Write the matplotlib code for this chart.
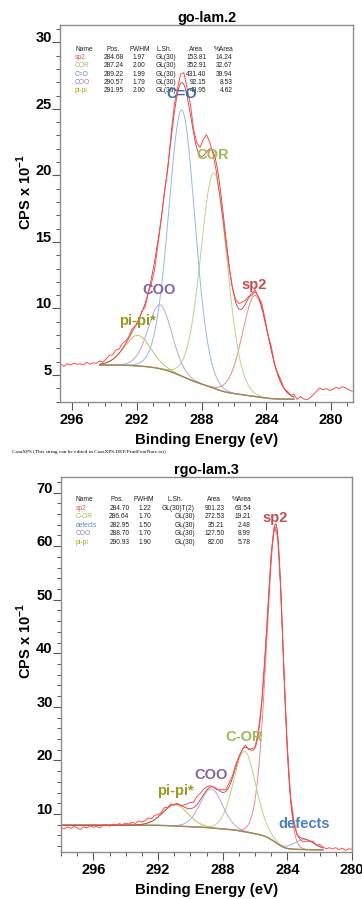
import numpy as np
import matplotlib
matplotlib.use('Agg')
import matplotlib.pyplot as plt
from matplotlib.ticker import MultipleLocator

plt.rcParams['font.family'] = ['Liberation Sans', 'DejaVu Sans']
plt.rcParams['mathtext.fontset'] = 'custom'
plt.rcParams['mathtext.rm'] = 'Liberation Sans'
plt.rcParams['mathtext.bf'] = 'Liberation Sans:bold'

W, H = 362, 899

# ---------------- go-lam.2 ----------------
go_names = ['sp2', 'COR', 'C=O', 'COO', 'pi-pi']
go_pos = [284.68, 287.24, 289.22, 290.57, 291.95]
go_fwhm = [1.97, 2.00, 1.99, 1.79, 2.00]
go_lsh = ['GL(30)', 'GL(30)', 'GL(30)', 'GL(30)', 'GL(30)']
go_area = [153.81, 352.91, 431.40, 92.15, 49.95]
go_pct = [14.24, 32.67, 39.94, 8.53, 4.62]
go_height = [7.6, 16.2, 20.0, 4.8, 2.3]          # above background
go_bg_hi, go_bg_lo = 5.75, 3.18                  # Shirley end points
go_region = (294.3, 282.3)
go_start, go_end = 296.7, 278.7
# raw counts minus fit envelope, every 0.2 eV from 296.7 down to 278.7
go_resid = [0.05, -0.1, 0.1, 0.0, 0.15, 0.05, 0.1, 0.0, 0.2, 0.05, 0.15, 0.1, 0.25, 0.1,
            0.3, 0.45, 0.35, 0.5, 0.3, 0.4, 0.2,
            0.1, 0.25, 0.0, -0.2, 0.1, -0.3, -0.1,
            -0.4, -0.6, -0.3, -0.1, 0.2, -0.2, 0.3,
            0.6, 0.4, 0.7, 0.9, 0.6, 0.8, 0.3,
            0.4, 0.6, 1.2, 1.3, 0.5, -0.2, -0.6,
            -0.8, -0.6, -0.4, -0.2, 0.0, 0.2, 0.4,
            0.5, 0.3, 0.1, -0.2, 0.2, 0.0, 0.3,
            0.2, 0.0, 0.3, -0.1, 0.1, 0.2, 0.0,
            0.1, 0.0, 0.2, -0.1, 0.15, 0.0, -0.05,
            0.1, 0.35, 0.6, 0.85, 0.7, 0.8, 0.65,
            0.75, 0.9, 0.8, 0.95, 0.85, 0.7, 0.6]

# ---------------- rgo-lam.3 ----------------
rgo_names = ['sp2', 'C-OR', 'defects', 'COO', 'pi-pi']
rgo_pos = [284.70, 286.64, 282.95, 288.70, 290.93]
rgo_fwhm = [1.22, 1.70, 1.50, 1.70, 1.90]
rgo_lsh = ['GL(30)T(2)', 'GL(30)', 'GL(30)', 'GL(30)', 'GL(30)']
rgo_area = [901.23, 272.53, 35.21, 127.50, 82.00]
rgo_pct = [63.54, 19.21, 2.48, 8.99, 5.78]
rgo_height = [59.0, 15.0, 1.9, 7.3, 4.0]
rgo_fwhm_hi = [1.45, 1.70, 1.50, 1.70, 1.90]     # high-BE side width (tail on sp2)
rgo_fwhm_lo = [1.10, 1.70, 1.50, 1.70, 1.90]
rgo_bg_hi, rgo_bg_lo = 7.9, 3.3
rgo_region = (298.0, 281.8)
rgo_start, rgo_end = 298.0, 280.0
rgo_resid = [-0.4, -0.7, -0.3, -0.6, -0.2, -0.5, -0.8, -0.3, -0.5, -0.1, -0.4, -0.2, -0.5, 0.0,
             0.1, -0.2, 0.2, 0.0, 0.3, 0.1, 0.4,
             0.2, 0.5, 0.3, 0.7, 0.4, 0.6, 0.9,
             0.5, 0.8, 0.4, 0.3, 0.6, 0.1, 0.3,
             -0.2, 0.2, -0.1, 0.4, 0.8, 1.2, 1.0,
             1.5, 1.2, 1.0, 0.6, 0.3, 0.0, -0.2,
             0.2, 0.5, 0.3, 0.7, 0.4, 0.6, 0.2,
             0.0, 0.4, -0.2, 0.3, 0.0, 0.5, 0.2,
             0.3, -0.3, 0.4, 0.0, -0.5, 0.6, 0.2,
             0.4, 0.0, 0.5, -0.2, -0.4, -0.6, -0.3,
             0.0, 0.3, -0.1, 0.4, 0.2, 0.0, 0.3,
             0.1, 0.4, 0.0, 0.3, -0.1, 0.2, 0.1]

comp_col = {'sp2': '#e88a8a', 'COR': '#b5d58a', 'C-OR': '#b5d58a', 'C=O': '#95b7e6',
            'defects': '#95b7e6', 'COO': '#b7a6dc', 'pi-pi': '#c2c25a'}
name_col = {'sp2': '#e05555', 'COR': '#9bc35a', 'C-OR': '#9bc35a', 'C=O': '#5b88cc',
            'defects': '#5b88cc', 'COO': '#9478c0', 'pi-pi': '#a8a820'}
lab_col = {'sp2': '#c0504d', 'COR': '#9bbb59', 'C-OR': '#9bbb59', 'C=O': '#3b6db3',
           'defects': '#4f81bd', 'COO': '#8064a2', 'pi-pi*': '#9a9a1c'}


def gl(x, pos, f_lo, f_hi, h, m=0.3):
    f = np.where(x > pos, f_hi, f_lo)
    u = (x - pos) ** 2 / f ** 2
    return h * np.exp(-4 * np.log(2) * (1 - m) * u) / (1 + 4 * m * u)


def px(x, y):
    return x / W, 1 - y / H


fig = plt.figure(figsize=(W / 100, H / 100), dpi=100)


def panel(rect, title, start, end, pos, f_lo, f_hi, heights, names, bg_hi, bg_lo,
          region, resid, xlim, ylim, ymaj, ymin):
    ax = fig.add_axes(rect)
    n = int(round((start - end) / 0.02)) + 1
    x = start - 0.02 * np.arange(n)
    comps = [gl(x, p, a, b, h) for p, a, b, h in zip(pos, f_lo, f_hi, heights)]
    total = np.sum(comps, axis=0)
    # Shirley background
    s = total[::-1]
    cum = np.concatenate([[0], np.cumsum((s[1:] + s[:-1]) / 2)])
    bg = (bg_lo + (bg_hi - bg_lo) * cum / cum[-1])[::-1]
    env = total + bg
    m = (x <= region[0]) & (x >= region[1])
    for c, nm in zip(comps, names):
        ax.plot(x[m], (c + bg)[m], color=comp_col[nm], lw=0.7)
    ax.plot(x[m], bg[m], color='#a08658', lw=1.0)
    ax.plot(x[m], env[m], color='#cc3a3a', lw=0.6)
    ax.plot(x[::10], env[::10] + np.array(resid), color='#ff4d4d', lw=0.7)

    ax.set_xlim(*xlim)
    ax.set_ylim(*ylim)
    ax.xaxis.set_major_locator(MultipleLocator(4))
    ax.xaxis.set_minor_locator(MultipleLocator(1))
    ax.yaxis.set_major_locator(MultipleLocator(ymaj))
    ax.yaxis.set_minor_locator(MultipleLocator(ymin))
    ax.tick_params(which='major', direction='out', length=5.5, width=0.8, color='#555555',
                   labelsize=10.5, pad=2.5)
    ax.tick_params(which='minor', direction='out', length=2.8, width=0.7, color='#555555')
    ax.tick_params(axis='y', pad=0.5)
    for lb in ax.get_xticklabels() + ax.get_yticklabels():
        lb.set_fontweight('bold')
    for lb in ax.get_yticklabels():
        lb.set_va('baseline')
    for sp in ax.spines.values():
        sp.set_color('#8c8c8c')
        sp.set_linewidth(1.0)
    ax.set_title(title, fontsize=10.4, fontweight='bold', pad=2)
    return ax


ax1 = panel([60 / W, 1 - 402 / H, 293 / W, 377 / H], 'go-lam.2', go_start, go_end,
            go_pos, go_fwhm, go_fwhm, go_height, go_names, go_bg_hi, go_bg_lo,
            go_region, go_resid, (296.75, 278.65), (2.97, 31.3), 5, 1)
ax2 = panel([61 / W, 1 - 852 / H, 291 / W, 375 / H], 'rgo-lam.3', rgo_start, rgo_end,
            rgo_pos, rgo_fwhm_lo, rgo_fwhm_hi, rgo_height, rgo_names, rgo_bg_hi, rgo_bg_lo,
            rgo_region, rgo_resid, (298.0, 280.0), (2.9, 72.9), 10, 2)

# axis labels
for yc, xc in [(192, 24), (641, 24)]:
    fig.text(*px(xc, yc), r'CPS x 10$^{\mathbf{-1}}$', rotation=90, ha='center', va='center',
             fontsize=10.5, fontweight='bold')
for yc in [440, 890]:
    fig.text(*px(207, yc), 'Binding Energy (eV)', ha='center', va='center',
             fontsize=10.8, fontweight='bold')

fig.text(*px(12, 452), 'CasaXPS (This string can be edited in CasaXPS.DEF/PrintFootNote.txt)',
         family='Liberation Serif', fontsize=3.8, va='center')

# fit tables
tfs = 4.8
go_cols = [('Name', 75, 'left'), ('Pos.', 124, 'right'), ('FWHM', 145.5, 'right'),
           ('L.Sh.', 155.5, 'left'), ('Area', 206.5, 'right'), ('%Area', 232.5, 'right')]
go_head_x = [(75, 'left'), (113, 'center'), (139.5, 'center'), (156.5, 'left'),
             (196, 'center'), (233, 'right')]
rgo_cols = [('Name', 76, 'left'), ('Pos.', 129.5, 'right'), ('FWHM', 151.5, 'right'),
            ('L.Sh.', 195, 'right'), ('Area', 224.5, 'right'), ('%Area', 251, 'right')]
rgo_head_x = [(76, 'left'), (117.5, 'center'), (144, 'center'), (175.5, 'center'),
              (213.5, 'center'), (241.5, 'center')]


def table(y0, dy, cols, head_x, names, pos, fwhm, lsh, area, pct):
    for (h, _, _), (hx, ha) in zip(cols, head_x):
        fig.text(*px(hx, y0), h, fontsize=tfs, ha=ha, va='center', color='#222222')
    for i in range(len(names)):
        y = y0 + dy * (i + 1)
        vals = [names[i], f'{pos[i]:.2f}', f'{fwhm[i]:.2f}', lsh[i], f'{area[i]:.2f}',
                f'{pct[i]:.2f}']
        for j, ((_, cx, ha), v) in enumerate(zip(cols, vals)):
            fig.text(*px(cx, y), v, fontsize=tfs, ha=ha, va='center',
                     color=name_col[names[i]] if j == 0 else '#222222')


table(49.3, 8.3, go_cols, go_head_x, go_names, go_pos, go_fwhm, go_lsh, go_area, go_pct)
table(500, 8.4, rgo_cols, rgo_head_x, rgo_names, rgo_pos, rgo_fwhm, rgo_lsh, rgo_area, rgo_pct)

# peak labels
go_labels = [('C=O', 182, 94), ('COR', 213, 155), ('COO', 159, 290), ('pi-pi*', 137, 321),
             ('sp2', 254, 285)]
rgo_labels = [('sp2', 275, 518), ('C-OR', 244, 737), ('COO', 211, 775), ('pi-pi*', 175, 791),
              ('defects', 304, 824)]
for txt, lx, ly in go_labels + rgo_labels:
    fig.text(*px(lx, ly), txt, ha='center', va='center', fontsize=10.5, fontweight='bold',
             color=lab_col[txt])

fig.savefig('out.png', dpi=100, facecolor='white')
